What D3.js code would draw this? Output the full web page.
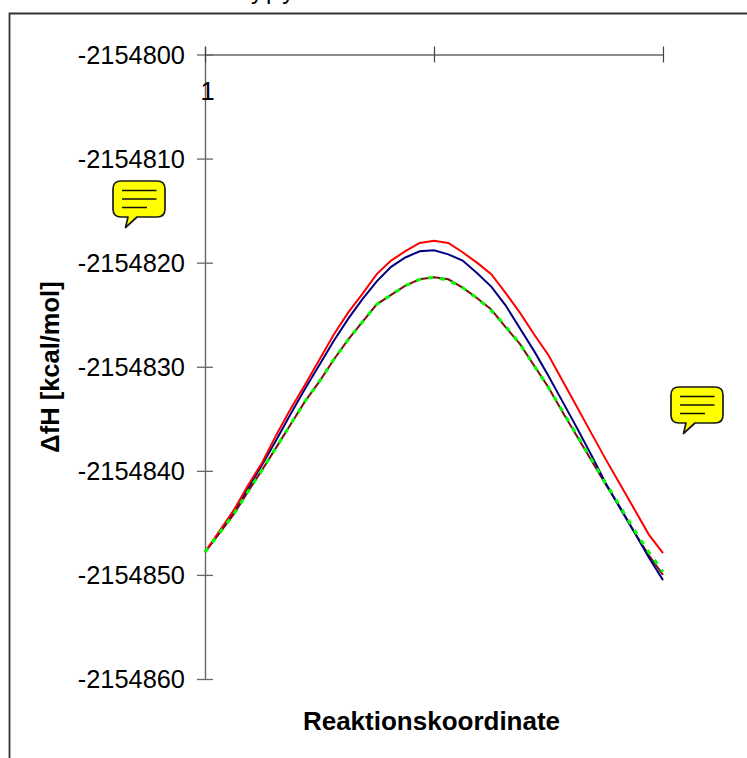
<!DOCTYPE html>
<html><head><meta charset="utf-8">
<script src="https://cdn.jsdelivr.net/npm/d3@7"></script>
<style>html,body{margin:0;padding:0;background:#fff;overflow:hidden}svg{display:block}text{font-family:"Liberation Sans",Arial,sans-serif;fill:#000}</style>
</head><body><svg id="c" width="747" height="758"></svg>
<script>
const yTicks=[-2154800,-2154810,-2154820,-2154830,-2154840,-2154850,-2154860];
const xTicks=[1,17,33];
const xLabels=["1","",""];
const yTitle="ΔfH [kcal/mol]";
const xTitle="Reaktionskoordinate";
const topFragment="ypy";
const seriesRed=[-2154847.8,-2154845.8,-2154843.8,-2154841.4,-2154839.2,-2154836.5,-2154834.0,-2154831.7,-2154829.3,-2154826.9,-2154824.8,-2154823.0,-2154821.1,-2154819.8,-2154818.9,-2154818.1,-2154817.9,-2154818.1,-2154819.0,-2154820.0,-2154821.1,-2154822.9,-2154824.8,-2154826.9,-2154828.9,-2154831.4,-2154833.9,-2154836.4,-2154838.9,-2154841.3,-2154843.7,-2154846.1,-2154847.9];
const seriesBlue=[-2154847.8,-2154845.9,-2154843.9,-2154841.7,-2154839.4,-2154837.0,-2154834.5,-2154832.1,-2154829.8,-2154827.5,-2154825.4,-2154823.5,-2154821.8,-2154820.4,-2154819.5,-2154818.9,-2154818.8,-2154819.2,-2154819.8,-2154821.0,-2154822.3,-2154824.1,-2154826.3,-2154828.5,-2154830.9,-2154833.4,-2154835.9,-2154838.5,-2154841.2,-2154843.6,-2154845.9,-2154848.3,-2154850.5];
const seriesBrown=[-2154847.8,-2154846.0,-2154844.2,-2154842.0,-2154839.9,-2154837.7,-2154835.5,-2154833.3,-2154831.4,-2154829.3,-2154827.4,-2154825.7,-2154824.0,-2154823.1,-2154822.2,-2154821.6,-2154821.4,-2154821.6,-2154822.4,-2154823.4,-2154824.5,-2154826.2,-2154827.8,-2154829.9,-2154832.0,-2154834.4,-2154836.7,-2154839.0,-2154841.3,-2154843.5,-2154845.9,-2154848.1,-2154850.0];
const seriesGreen=[-2154847.8,-2154846.0,-2154844.2,-2154842.0,-2154839.9,-2154837.7,-2154835.5,-2154833.3,-2154831.4,-2154829.3,-2154827.4,-2154825.7,-2154824.0,-2154823.1,-2154822.2,-2154821.6,-2154821.4,-2154821.7,-2154822.4,-2154823.4,-2154824.6,-2154826.1,-2154827.8,-2154829.9,-2154832.0,-2154834.3,-2154836.6,-2154838.9,-2154841.2,-2154843.4,-2154845.7,-2154847.8,-2154849.7];
const seriesColors=["#7f1010","#00ff00","#000080","#ff0000"];

const svg=d3.select("#c");
const W=747,H=758;
const x=d3.scaleLinear().domain([1,33]).range([205,663]);
const y=d3.scaleLinear().domain([-2154800,-2154860]).range([54.5,679]);

svg.append("path").attr("d",`M9.5,${H}V13.5H${W}`).attr("fill","none").attr("stroke","#333").attr("stroke-width",1.8);
svg.append("text").attr("x",251).attr("y",-1).attr("font-size",24).attr("letter-spacing",3).text(topFragment);

const gy=svg.append("g").attr("transform","translate(205,0)").call(d3.axisLeft(y).tickValues(yTicks).tickFormat(d3.format("d")).tickSizeOuter(0).tickSizeInner(8));
gy.select(".domain").attr("d","M0.5,47V679").attr("stroke","#666").attr("stroke-width",1.4);
gy.selectAll(".tick line").attr("x1",-8).attr("x2",8).attr("stroke","#666").attr("stroke-width",1.3);
gy.selectAll(".tick text").text(d=>String(d)).attr("x",-20).attr("dy","0.35em").attr("font-size",25.4).style("font-family",'"Liberation Sans"').attr("fill","#000");

const gx=svg.append("g").attr("transform","translate(0,54.5)").call(d3.axisBottom(x).tickValues(xTicks).tickFormat((d,i)=>xLabels[i]).tickSizeOuter(0).tickSizeInner(8));
gx.select(".domain").attr("stroke","#666").attr("stroke-width",1.4);
gx.selectAll(".tick line").attr("y1",-8).attr("y2",8).attr("stroke","#444").attr("stroke-width",1.2);
gx.selectAll(".tick text").attr("y",36).attr("dx",2).attr("dy","0.36em").attr("font-size",25.4).style("font-family",'"Liberation Sans"').attr("fill","#000");

const line=d3.line().x((d,i)=>x(i+1)).y(d=>y(d));
svg.append("path").datum(seriesBrown).attr("d",line).attr("fill","none").attr("stroke",seriesColors[0]).attr("stroke-width",2);
svg.append("path").datum(seriesBlue).attr("d",line).attr("fill","none").attr("stroke",seriesColors[2]).attr("stroke-width",2);
svg.append("path").datum(seriesRed).attr("d",line).attr("fill","none").attr("stroke",seriesColors[3]).attr("stroke-width",2);
svg.append("path").datum(seriesGreen).attr("d",line).attr("fill","none").attr("stroke",seriesColors[1]).attr("stroke-width",3).attr("stroke-dasharray","5 7");

svg.append("text").attr("transform","translate(59,367) rotate(-90)").attr("text-anchor","middle").attr("font-size",25.5).attr("font-weight","bold").text(yTitle);
svg.append("text").attr("x",431.5).attr("y",730).attr("text-anchor","middle").attr("font-size",26).attr("font-weight","bold").text(xTitle);

function bubble(bx,by){
  const w=52,h=36,r=8;
  const g=svg.append("g").attr("transform",`translate(${bx},${by})`);
  g.append("path").attr("d",`M${r},0H${w-r}Q${w},0 ${w},${r}V${h-r}Q${w},${h} ${w-r},${h}H24L12.5,${h+10.5}L15,${h}H${r}Q0,${h} 0,${h-r}V${r}Q0,0 ${r},0Z`)
    .attr("fill","#ffff00").attr("stroke","#1a1a1a").attr("stroke-width",1.7).attr("stroke-linejoin","round");
  [[9,43.5,9.5],[9,43.5,18],[9,34,26.5]].forEach(a=>g.append("line").attr("x1",a[0]).attr("x2",a[1]).attr("y1",a[2]).attr("y2",a[2]).attr("stroke","#111").attr("stroke-width",1.5));
}
bubble(113,181);
bubble(671,387);
</script></body></html>
